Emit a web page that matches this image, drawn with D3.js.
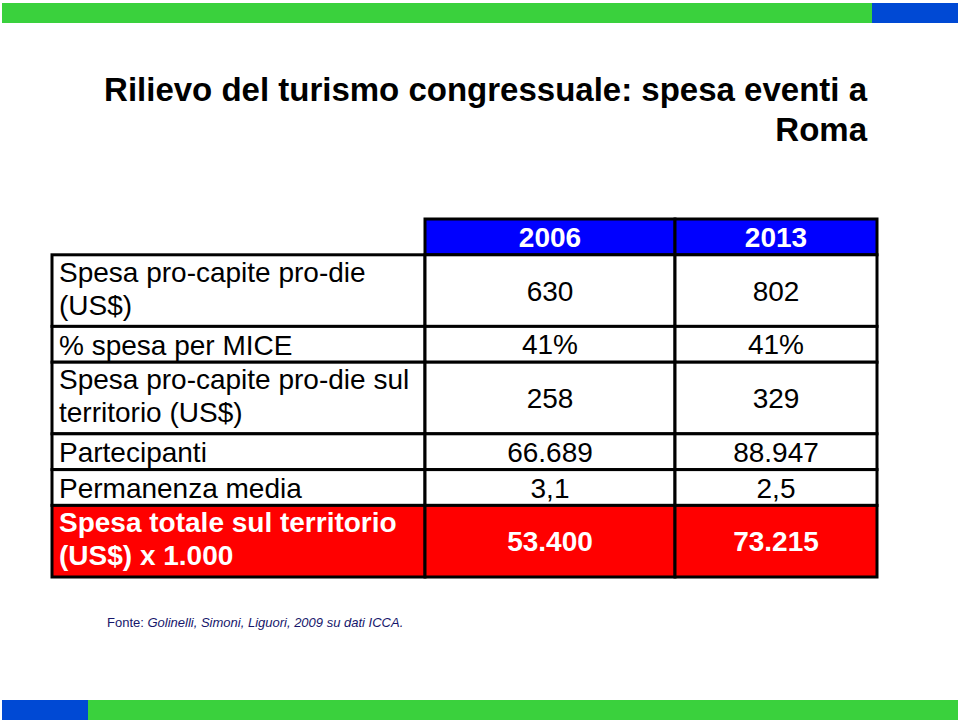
<!DOCTYPE html>
<html>
<head>
<meta charset="utf-8">
<script src="https://cdn.jsdelivr.net/npm/d3@7"></script>
<style>
  html, body { margin: 0; padding: 0; background: #fff; }
  svg { display: block; font-family: "Liberation Sans", Arial, sans-serif; }
</style>
</head>
<body>
<svg id="chart" width="960" height="724"></svg>
<script>
// ---- data ----
const titleLines = ["Rilievo del turismo congressuale: spesa eventi a", "Roma"];
const columns = ["2006", "2013"];
const rowLabels = [
  ["Spesa pro-capite pro-die", "(US$)"],
  ["% spesa per MICE"],
  ["Spesa pro-capite pro-die sul", "territorio (US$)"],
  ["Partecipanti"],
  ["Permanenza media"],
  ["Spesa totale sul territorio", "(US$) x 1.000"]
];
const values2006 = ["630", "41%", "258", "66.689", "3,1", "53.400"];
const values2013 = ["802", "41%", "329", "88.947", "2,5", "73.215"];
const highlightRow = 5;
const sourcePrefix = "Fonte: ";
const sourceText = "Golinelli, Simoni, Liguori, 2009 su dati ICCA.";

// ---- layout ----
const svg = d3.select("#chart");
const GREEN = "#3ad13d", BAR_BLUE = "#0049d4", HEAD_BLUE = "#0000ff", RED = "#ff0000";

// decorative bars
svg.append("rect").attr("x", 2).attr("y", 3).attr("width", 870).attr("height", 20).attr("fill", GREEN);
svg.append("rect").attr("x", 872).attr("y", 3).attr("width", 86).attr("height", 20).attr("fill", BAR_BLUE);
svg.append("rect").attr("x", 2).attr("y", 700).attr("width", 86).attr("height", 20).attr("fill", BAR_BLUE);
svg.append("rect").attr("x", 88).attr("y", 700).attr("width", 870).attr("height", 20).attr("fill", GREEN);

// title
const title = svg.append("text").attr("text-anchor", "end").attr("font-size", 33).attr("font-weight", "bold").attr("fill", "#000");
titleLines.forEach((t, i) => title.append("tspan").attr("x", 867).attr("y", 101 + i * 40).text(t));

// table scales
const rowUnits = rowLabels.map(l => l.length);
const cum = [1];
rowUnits.forEach(u => cum.push(cum[cum.length - 1] + u));
const y = d3.scaleLinear().domain([0, cum[cum.length - 1]]).range([219, 577]);
const colEdges = [52, 425, 675, 877];
const x = d3.scaleOrdinal().domain(["label", ...columns]).range([0, 1, 2]);

const rows = rowLabels.map((lab, i) => ({
  i, lab, vals: [values2006[i], values2013[i]], y0: y(cum[i]), y1: y(cum[i + 1])
}));

const g = svg.append("g");

// header cells
columns.forEach((c, j) => {
  const x0 = colEdges[x(c)], x1 = colEdges[x(c) + 1];
  g.append("rect").attr("x", x0).attr("y", y(0)).attr("width", x1 - x0).attr("height", y(1) - y(0))
    .attr("fill", HEAD_BLUE).attr("stroke", "#000").attr("stroke-width", 3);
  g.append("text").attr("x", (x0 + x1) / 2).attr("y", (y(0) + y(1)) / 2 + 10)
    .attr("text-anchor", "middle").attr("font-size", 28).attr("font-weight", "bold").attr("fill", "#fff").text(c);
});

// body cells
rows.forEach(r => {
  const hl = r.i === highlightRow;
  ["label", ...columns].forEach((c, j) => {
    const x0 = colEdges[x(c)], x1 = colEdges[x(c) + 1];
    g.append("rect").attr("x", x0).attr("y", r.y0).attr("width", x1 - x0).attr("height", r.y1 - r.y0)
      .attr("fill", hl ? RED : "#fff").attr("stroke", "#000").attr("stroke-width", 3);
  });
  // label
  const lt = g.append("text").attr("font-size", 28).attr("fill", hl ? "#fff" : "#000")
    .attr("font-weight", hl ? "bold" : "normal");
  if (r.lab.length === 1) {
    lt.append("tspan").attr("x", colEdges[0] + 7).attr("y", r.y0 + 28.5).text(r.lab[0]);
  } else {
    r.lab.forEach((t, k) => lt.append("tspan").attr("x", colEdges[0] + 7).attr("y", r.y0 + 27 + k * 33).text(t));
  }
  // values
  columns.forEach((c, j) => {
    const x0 = colEdges[x(c)], x1 = colEdges[x(c) + 1];
    g.append("text").attr("x", (x0 + x1) / 2).attr("y", (r.y0 + r.y1) / 2 + 10)
      .attr("text-anchor", "middle").attr("font-size", 28)
      .attr("font-weight", hl ? "bold" : "normal").attr("fill", hl ? "#fff" : "#000").text(r.vals[j]);
  });
});

// source
const src = svg.append("text").attr("x", 107).attr("y", 627).attr("font-size", 13).attr("fill", "#16166b");
src.append("tspan").text(sourcePrefix);
src.append("tspan").attr("font-style", "italic").text(sourceText);
</script>
</body>
</html>
